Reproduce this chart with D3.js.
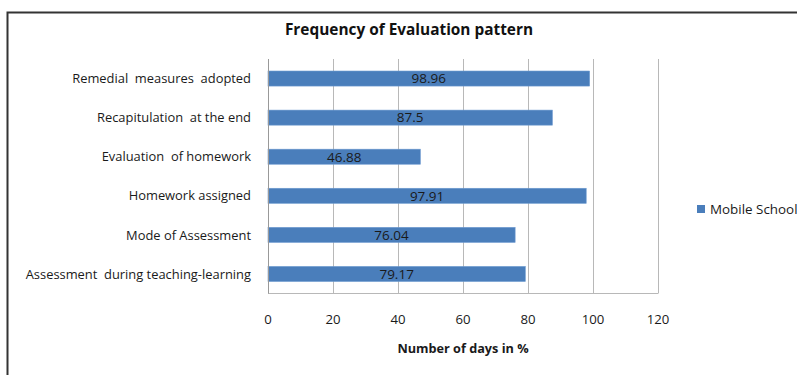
<!DOCTYPE html>
<html>
<head>
<meta charset="utf-8">
<script src="https://cdn.jsdelivr.net/npm/d3@7"></script>
<style>
  html, body { margin: 0; padding: 0; background: #fff; }
  svg { display: block; font-family: "Open Sans", "Noto Sans", sans-serif; }
</style>
</head>
<body>
<svg id="chart" width="797" height="375"></svg>
<script>
// Categories, top to bottom
const categories = [
  "Remedial  measures  adopted",
  "Recapitulation  at the end",
  "Evaluation  of homework",
  "Homework assigned",
  "Mode of Assessment",
  "Assessment  during teaching-learning"
];
const values = [98.96, 87.5, 46.88, 97.91, 76.04, 79.17];
const xTicks = [0, 20, 40, 60, 80, 100, 120];
const seriesName = "Mobile School";
const chartTitle = "Frequency of Evaluation pattern";
const xTitle = "Number of days in %";

const svg = d3.select("#chart");
const barColor = "#4a7ebb";
const gridColor = "#b8b8b8";

// Outer frame
svg.append("path")
  .attr("d", "M7.5,375 L7.5,12.5 L797,12.5")
  .attr("fill", "none")
  .attr("stroke", "#333")
  .attr("stroke-width", 2);

const plot = { left: 268, right: 658, top: 59, bottom: 293.5 };

const x = d3.scaleLinear().domain([0, 120]).range([plot.left, plot.right]);
const y = d3.scaleBand().domain(categories).range([plot.top, plot.bottom])
  .paddingInner(0.615).paddingOuter(0.3075);

// Vertical gridlines
svg.append("g").selectAll("line").data(xTicks.slice(1)).join("line")
  .attr("x1", d => Math.round(x(d)) + 0.5).attr("x2", d => Math.round(x(d)) + 0.5)
  .attr("y1", plot.top).attr("y2", plot.bottom)
  .attr("stroke", gridColor).attr("stroke-width", 1);

// Bottom axis line
svg.append("line")
  .attr("x1", plot.left).attr("x2", plot.right)
  .attr("y1", plot.bottom).attr("y2", plot.bottom)
  .attr("stroke", gridColor).attr("stroke-width", 1);

// Bars
svg.append("g").selectAll("rect").data(values).join("rect")
  .attr("x", x(0))
  .attr("y", (d, i) => y(categories[i]))
  .attr("width", d => x(d) - x(0))
  .attr("height", y.bandwidth())
  .attr("fill", barColor)
  .attr("stroke", "#6d9ad0")
  .attr("stroke-width", 0.6);

// Value labels centered in bars
svg.append("g").selectAll("text").data(values).join("text")
  .attr("x", d => (x(0) + x(d)) / 2)
  .attr("y", (d, i) => y(categories[i]) + y.bandwidth() / 2)
  .attr("dy", "0.36em")
  .attr("text-anchor", "middle")
  .attr("font-size", 13.5)
  .attr("fill", "#1a1a1a")
  .text(d => String(d));

// Left axis line
svg.append("line")
  .attr("x1", plot.left + 0.5).attr("x2", plot.left + 0.5)
  .attr("y1", plot.top).attr("y2", plot.bottom)
  .attr("stroke", "#999").attr("stroke-width", 1);

// Category labels
svg.append("g").selectAll("text").data(categories).join("text")
  .attr("x", 251)
  .attr("y", d => y(d) + y.bandwidth() / 2)
  .attr("dy", "0.36em")
  .attr("text-anchor", "end")
  .attr("font-size", 12.9)
  .attr("fill", "#1a1a1a")
  .style("white-space", "pre")
  .text(d => d);

// X tick labels
svg.append("g").selectAll("text").data(xTicks).join("text")
  .attr("x", d => x(d))
  .attr("y", 319)
  .attr("dy", "0.36em")
  .attr("text-anchor", "middle")
  .attr("font-size", 13.2)
  .attr("fill", "#1a1a1a")
  .text(d => d);

// Axis title
svg.append("text")
  .attr("x", (plot.left + plot.right) / 2)
  .attr("y", 348)
  .attr("dy", "0.36em")
  .attr("text-anchor", "middle")
  .attr("font-size", 12.7)
  .attr("font-weight", "bold")
  .attr("fill", "#1a1a1a")
  .text(xTitle);

// Chart title
svg.append("text")
  .attr("x", 409)
  .attr("y", 29)
  .attr("dy", "0.36em")
  .attr("text-anchor", "middle")
  .attr("font-size", 15.4)
  .attr("font-weight", "bold")
  .attr("fill", "#111")
  .text(chartTitle);

// Legend
const legend = svg.append("g").attr("transform", "translate(697,209)");
legend.append("rect")
  .attr("x", 0).attr("y", -4).attr("width", 8).attr("height", 8)
  .attr("fill", barColor);
legend.append("text")
  .attr("x", 13).attr("y", 0).attr("dy", "0.36em")
  .attr("font-size", 13.4)
  .attr("fill", "#1a1a1a")
  .text(seriesName);
</script>
</body>
</html>
